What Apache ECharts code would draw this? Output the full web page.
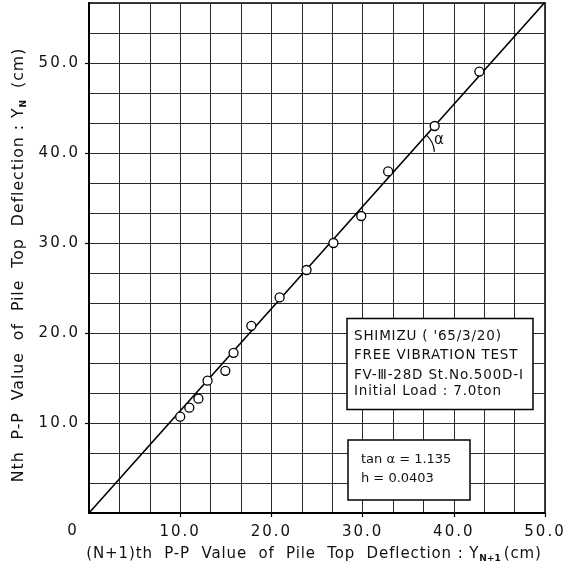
<!DOCTYPE html>
<html><head><meta charset="utf-8">
<script src="https://cdn.jsdelivr.net/npm/echarts@6/dist/echarts.min.js"></script>
<style>html,body{margin:0;padding:0;background:#fff}#c{width:575px;height:573px}</style>
</head><body><div id="c"></div>
<script>
// ---- data ----
const xValues = [10.0, 11.0, 12.0, 13.0, 14.95, 15.85, 17.8, 20.9, 23.85, 26.8, 29.85, 32.8, 37.9, 42.8];
const yValues = [10.7, 11.7, 12.7, 14.7, 15.8, 17.8, 20.8, 23.95, 27.0, 30.0, 33.0, 37.95, 43.0, 49.05];
const tanAlpha = 1.135;
const xTickValues = [10, 20, 30, 40, 50];
const xTickLabels = ['10.0', '20.0', '30.0', '40.0', '50.0'];
const yTickValues = [10, 20, 30, 40, 50];
const yTickLabels = ['10.0', '20.0', '30.0', '40.0', '50.0'];
const originLabel = '0';
const infoLines = ["SHIMIZU ( '65/3/20)", 'FREE VIBRATION TEST', 'FV-\u2162-28D St.No.500D-I', 'Initial Load : 7.0ton'];
const resultLines = ['tan \u03b1 = 1.135', 'h = 0.0403'];
const alphaLabel = '\u03b1';
const X_MAX = 50, Y_MAX = 170 / 3, GRID_STEP = 10 / 3;

const FONT = '"DejaVu Sans", sans-serif';
const points = xValues.map((x, i) => [x, yValues[i]]);
const fitLine = [[0, 0], [X_MAX, X_MAX * tanAlpha]];

// wide lettering like the reference: canvas letterSpacing, applied to both measuring and drawing
(function () {
  const P = CanvasRenderingContext2D.prototype;
  if (!('letterSpacing' in P)) return;
  const tickSet = new Set(xTickLabels.concat(yTickLabels, [originLabel]));
  function spacingFor(ctx, text) {
    if (tickSet.has(text)) return 2;
    const m = /([\d.]+)px/.exec(ctx.font || '');
    const fs = m ? parseFloat(m[1]) : 12;
    return fs >= 13.5 ? +(fs * 0.06).toFixed(2) : 0;
  }
  const origFill = P.fillText, origMeasure = P.measureText;
  P.fillText = function (text, x, y, maxW) {
    const prev = this.letterSpacing;
    this.letterSpacing = spacingFor(this, String(text)) + 'px';
    const r = maxW === undefined ? origFill.call(this, text, x, y) : origFill.call(this, text, x, y, maxW);
    this.letterSpacing = prev;
    return r;
  };
  P.measureText = function (text) {
    const prev = this.letterSpacing;
    this.letterSpacing = spacingFor(this, String(text)) + 'px';
    const r = origMeasure.call(this, text);
    this.letterSpacing = prev;
    return r;
  };
})();

const chart = echarts.init(document.getElementById('c'), null, { renderer: 'canvas' });

const gridAxisCommon = {
  type: 'value', min: 0, interval: GRID_STEP,
  axisTick: { show: false }, axisLabel: { show: false },
  splitLine: { show: true, lineStyle: { color: '#2a2a2a', width: 1 } }
};

chart.setOption({
  animation: false,
  backgroundColor: '#fff',
  grid: { left: 89, right: 30, top: 3, bottom: 60, show: true, borderColor: '#000', borderWidth: 1.5, backgroundColor: 'transparent' },
  xAxis: [
    Object.assign({}, gridAxisCommon, { max: X_MAX, position: 'bottom',
      axisLine: { show: true, onZero: false, lineStyle: { color: '#000', width: 2 } } }),
    { type: 'value', min: 0, max: X_MAX, position: 'bottom',
      axisLine: { show: false, onZero: false },
      axisTick: { show: true, customValues: xTickValues, length: 4, lineStyle: { color: '#000', width: 1.2 } },
      axisLabel: { show: true, customValues: xTickValues, margin: 11,
        formatter: v => xTickLabels[xTickValues.indexOf(Math.round(v))] || '',
        color: '#111', fontFamily: FONT, fontSize: 15 },
      splitLine: { show: false },
      name: '(N+1)th  P-P  Value  of  Pile  Top  Deflection : Y{sub|N+1}(cm)',
      nameLocation: 'middle', nameGap: 32,
      nameTextStyle: { color: '#111', fontFamily: FONT, fontSize: 15, lineHeight: 18, padding: [0, 6, 0, 0],
        rich: { sub: { fontFamily: FONT, fontSize: 9, fontWeight: 'bold', verticalAlign: 'bottom', lineHeight: 12, padding: [0, 3, 0, 0] } } }
    }
  ],
  yAxis: [
    Object.assign({}, gridAxisCommon, { max: Y_MAX, position: 'left',
      axisLine: { show: true, onZero: false, lineStyle: { color: '#000', width: 2 } } }),
    { type: 'value', min: 0, max: Y_MAX, position: 'left',
      axisLine: { show: false, onZero: false },
      axisTick: { show: true, customValues: yTickValues, length: 4, lineStyle: { color: '#000', width: 1.2 } },
      axisLabel: { show: true, customValues: yTickValues, margin: 9,
        formatter: v => yTickLabels[yTickValues.indexOf(Math.round(v))] || '',
        color: '#111', fontFamily: FONT, fontSize: 15 },
      splitLine: { show: false },
      name: 'Nth  P-P  Value  of  Pile  Top  Deflection : Y{sub|N}  (cm)',
      nameLocation: 'middle', nameGap: 59, nameRotate: 90,
      nameTextStyle: { color: '#111', fontFamily: FONT, fontSize: 15.8, lineHeight: 18, padding: [0, 14, 0, 0],
        rich: { sub: { fontFamily: FONT, fontSize: 9, fontWeight: 'bold', verticalAlign: 'bottom', lineHeight: 12 } } }
    }
  ],
  series: [
    { type: 'line', xAxisIndex: 0, yAxisIndex: 0, data: fitLine, showSymbol: false, clip: true,
      lineStyle: { color: '#000', width: 1.6 }, z: 3, silent: true },
    { type: 'scatter', xAxisIndex: 0, yAxisIndex: 0, data: points, symbol: 'circle', symbolSize: 9,
      itemStyle: { color: '#fff', borderColor: '#000', borderWidth: 1.3, opacity: 1 }, z: 4 }
  ]
});

// ---- annotations placed relative to the axes ----
const toPx = p => chart.convertToPixel({ xAxisIndex: 0, yAxisIndex: 0 }, p);
const origin = toPx([0, 0]);
const lineRef = 40;
const arcCenter = toPx([lineRef / tanAlpha, lineRef]);
const farPt = toPx([X_MAX, X_MAX * tanAlpha]);
const angPx = Math.atan2(origin[1] - farPt[1], farPt[0] - origin[0]);
const arcR = 24;

const graphics = [
  { type: 'text', x: origin[0] - 16, y: origin[1] + 18, z: 10,
    style: { text: originLabel, font: '15px ' + FONT, fill: '#111', align: 'center', verticalAlign: 'middle' } },
  { type: 'arc', z: 10, shape: { cx: arcCenter[0], cy: arcCenter[1], r: arcR, startAngle: -angPx, endAngle: -0.05, clockwise: true },
    style: { stroke: '#000', lineWidth: 1.2, fill: null } },
  { type: 'text', x: arcCenter[0] + 29, y: arcCenter[1] - 13, z: 10,
    style: { text: alphaLabel, font: '15px ' + FONT, fill: '#111', align: 'center', verticalAlign: 'middle' } },
  { type: 'rect', z: 20, shape: { x: 347, y: 318.5, width: 186, height: 91 },
    style: { fill: '#fff', stroke: '#000', lineWidth: 1.5 } },
  { type: 'rect', z: 20, shape: { x: 348, y: 440, width: 122, height: 60 },
    style: { fill: '#fff', stroke: '#000', lineWidth: 1.5 } }
];
const infoY = [336.7, 355.7, 375, 391];
infoLines.forEach((t, i) => graphics.push({ type: 'text', z: 21, x: 354, y: infoY[i],
  style: { text: t, font: '13.5px ' + FONT, fill: '#111', align: 'left', verticalAlign: 'middle' } }));
const resY = [460, 479];
resultLines.forEach((t, i) => graphics.push({ type: 'text', z: 21, x: 361, y: resY[i],
  style: { text: t, font: '13px ' + FONT, fill: '#111', align: 'left', verticalAlign: 'middle' } }));
chart.setOption({ graphic: graphics });
</script>
</body></html>
